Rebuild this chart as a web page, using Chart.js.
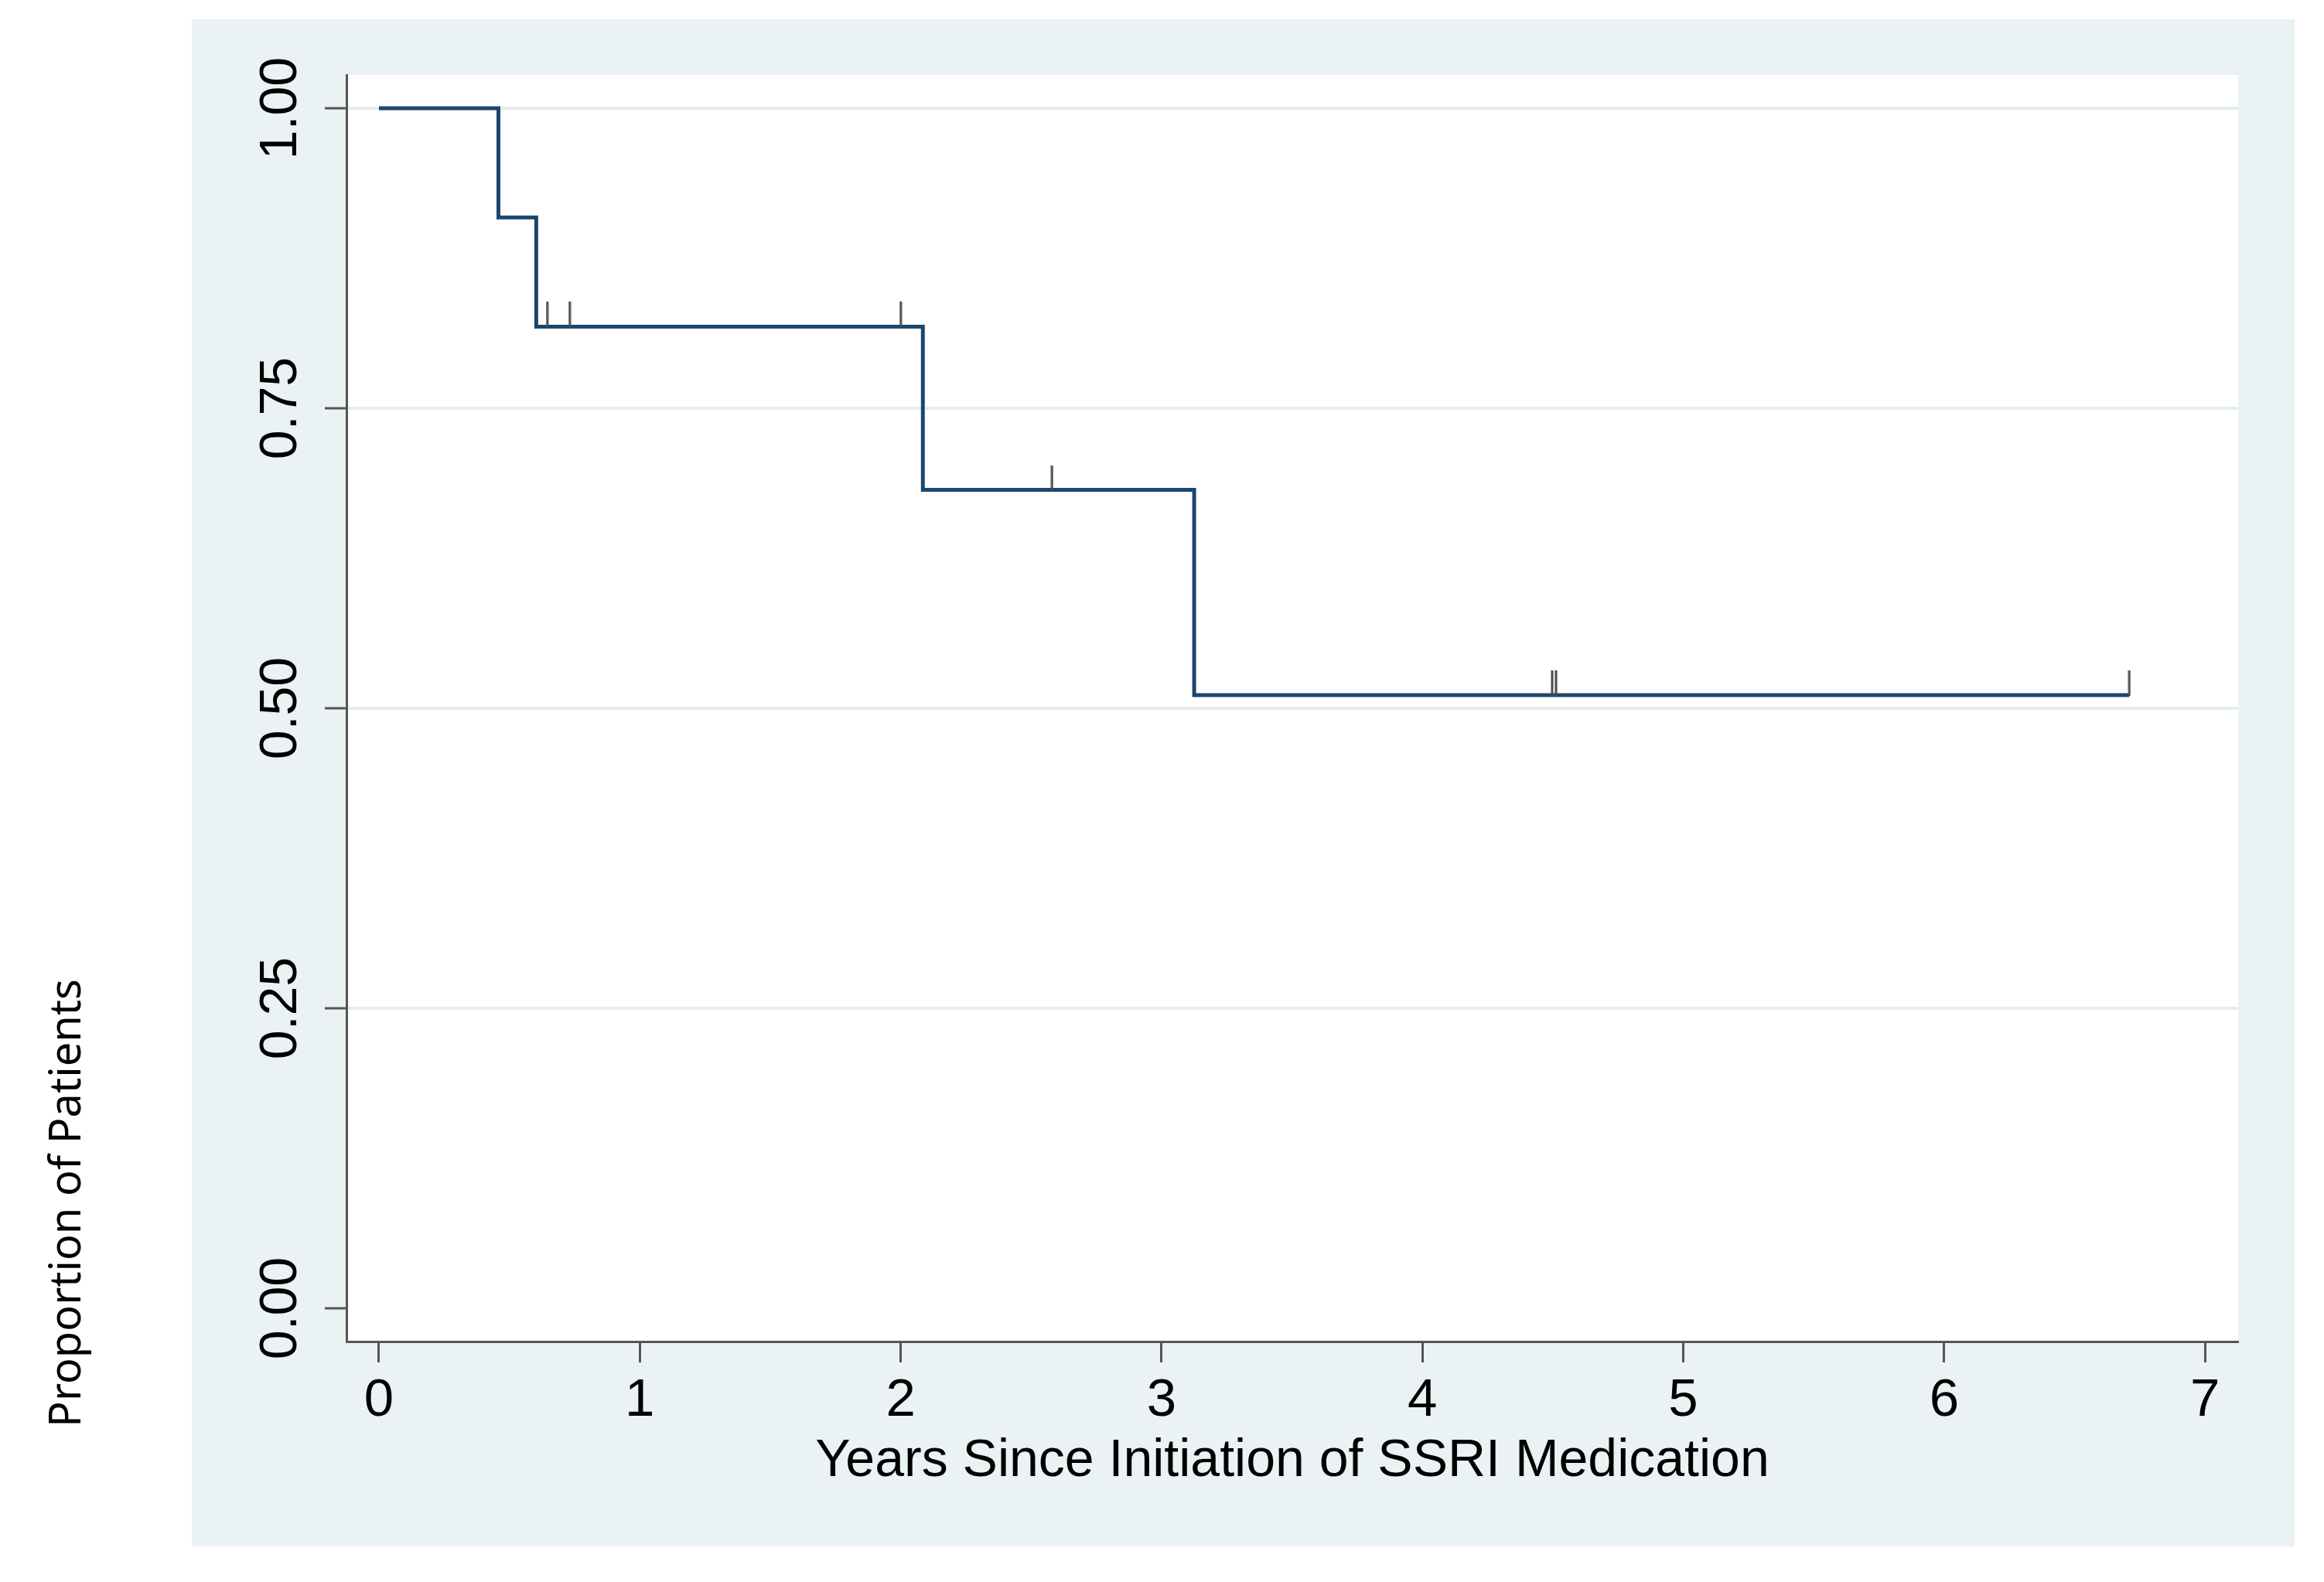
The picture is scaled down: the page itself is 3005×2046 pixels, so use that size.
<!DOCTYPE html>
<html>
<head>
<meta charset="utf-8">
<script src="https://cdn.jsdelivr.net/npm/chart.js@4/dist/chart.umd.min.js"></script>
<style>
  html, body { margin: 0; padding: 0; background: #ffffff; overflow: hidden; }
  #c { display: block; }
</style>
</head>
<body>
<canvas id="c" width="3005" height="2046"></canvas>
<script>
// ---- Data ----
const kmTimes = [0, 0.458, 0.603, 2.085, 3.125, 6.71];
const kmSurv  = [1.0, 0.909, 0.818, 0.682, 0.511, 0.511];
const censorTimes = [0.645, 0.731, 2.0, 2.58, 4.497, 4.512, 6.71];
const censorSurv  = [0.818, 0.818, 0.818, 0.682, 0.511, 0.511, 0.511];
const xTicks = [0, 1, 2, 3, 4, 5, 6, 7];
const yTicks = [0, 0.25, 0.5, 0.75, 1];
const xTitle = 'Years Since Initiation of SSRI Medication';
const yTitle = 'Proportion of Patients';

// ---- Styles ----
const PANEL = '#eaf2f3';
const NAVY = '#1a476f';
const AXIS = '#555555';

// censor mark: vertical tick drawn only above the point
const censorImg = document.createElement('canvas');
censorImg.width = 4; censorImg.height = 64;
(function(){
  const g = censorImg.getContext('2d');
  g.fillStyle = '#4a4a4a';
  g.fillRect(0.5, 0, 3, 33);
})();

const panelPlugin = {
  id: 'panel',
  beforeDraw(chart) {
    const {ctx, chartArea} = chart;
    ctx.save();
    ctx.fillStyle = PANEL;
    ctx.fillRect(248, 25, 2967 - 248, 2000 - 25);
    ctx.fillStyle = '#ffffff';
    ctx.fillRect(chartArea.left, chartArea.top, chartArea.right - chartArea.left, chartArea.bottom - chartArea.top);
    ctx.restore();
  },
  afterDraw(chart) {
    const {ctx} = chart;
    ctx.save();
    ctx.translate(88, 1556);
    ctx.rotate(-Math.PI / 2);
    ctx.font = '56px "Noto Sans", "Open Sans", sans-serif';
    ctx.fillStyle = '#000000';
    ctx.textAlign = 'center';
    ctx.textBaseline = 'middle';
    ctx.fillText(yTitle, 0, 0);
    ctx.restore();
  }
};

new Chart(document.getElementById('c'), {
  type: 'line',
  data: {
    datasets: [
      {
        label: 'KM',
        data: kmTimes.map((t, i) => ({x: t, y: kmSurv[i]})),
        borderColor: NAVY,
        borderWidth: 5,
        stepped: 'before',
        pointRadius: 0,
        fill: false,
        order: 2
      },
      {
        type: 'scatter',
        label: 'censored',
        data: censorTimes.map((t, i) => ({x: t, y: censorSurv[i]})),
        pointStyle: censorImg,
        pointRadius: 10,
        showLine: false,
        order: 1
      }
    ]
  },
  options: {
    responsive: false,
    animation: false,
    devicePixelRatio: 1,
    layout: { padding: { left: 0, top: 97, right: 111, bottom: 0 } },
    plugins: { legend: { display: false }, tooltip: { enabled: false } },
    scales: {
      x: {
        type: 'linear',
        min: -0.1245,
        max: 7.127,
        afterBuildTicks: (s) => { s.ticks = xTicks.map(v => ({value: v})); },
        afterFit: (s) => { s.height = 311; },
        grid: { drawOnChartArea: false, drawTicks: true, tickLength: 27, tickColor: AXIS, tickWidth: 3 },
        border: { display: true, color: AXIS, width: 3 },
        ticks: {
          color: '#000000',
          font: { family: '"Liberation Sans", Arial, sans-serif', size: 69 },
          padding: 9,
          maxRotation: 0,
          minRotation: 0,
          callback: (v) => String(v)
        },
        title: {
          display: true,
          text: xTitle,
          color: '#000000',
          font: { family: '"Liberation Sans", Arial, sans-serif', size: 68 },
          padding: { top: 0, bottom: 115 }
        }
      },
      y: {
        type: 'linear',
        min: -0.0277,
        max: 1.0277,
        afterBuildTicks: (s) => { s.ticks = yTicks.map(v => ({value: v})); },
        afterFit: (s) => { s.width = 448; },
        grid: {
          drawOnChartArea: true,
          color: (c) => (c.tick && c.tick.value === 0) ? 'rgba(0,0,0,0)' : '#e4edf0',
          lineWidth: 4,
          tickLength: 28,
          tickColor: AXIS,
          tickWidth: 3
        },
        border: { display: true, color: AXIS, width: 3 },
        ticks: {
          color: '#000000',
          font: { family: '"Liberation Sans", Arial, sans-serif', size: 68 },
          minRotation: 90,
          maxRotation: 90,
          crossAlign: 'center',
          padding: -10,
          callback: (v) => v.toFixed(2)
        }
      }
    }
  },
  plugins: [panelPlugin]
});
</script>
</body>
</html>
